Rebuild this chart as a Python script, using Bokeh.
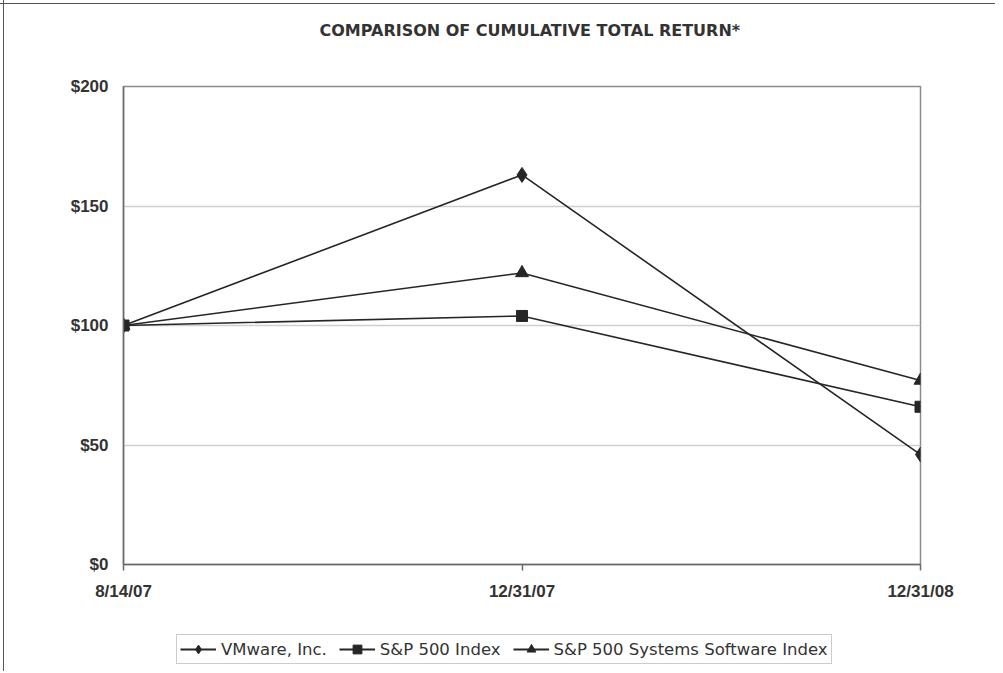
from bokeh.plotting import figure
from bokeh.models import Range1d, FixedTicker, Legend, LegendItem, Label
from bokeh.layouts import column
from bokeh.embed import file_html
from bokeh.resources import INLINE

dates = ["8/14/07", "12/31/07", "12/31/08"]
vmware = [100, 163, 46]
sp500 = [100, 104, 66]
software = [100, 122, 77]
y_ticks = [0, 50, 100, 150, 200]
y_labels = ["$0", "$50", "$100", "$150", "$200"]
series_names = ["VMware, Inc.", "S&P 500 Index", "S&P 500 Systems Software Index"]
title_text = "COMPARISON OF CUMULATIVE TOTAL RETURN*"

xs = list(range(len(dates)))
col = "#262626"
markers = [("diamond", 15), ("square", 11), ("triangle", 13)]

# title strip
TH = 50
tf = figure(width=995, height=TH, output_backend="svg", toolbar_location=None,
            x_range=Range1d(0, 1), y_range=Range1d(0, TH),
            x_axis_location=None, y_axis_location=None,
            min_border_left=0, min_border_right=0, min_border_top=0, min_border_bottom=0)
tf.border_fill_color = None
tf.background_fill_color = None
tf.outline_line_color = None
tf.grid.grid_line_color = None
tf.add_layout(Label(x=196, y=TH - 30, x_units="screen", text=title_text,
                    text_align="left", text_baseline="middle",
                    text_font="DejaVu Sans", text_font_style="bold",
                    text_font_size="16px", text_color="#333333"))

p = figure(width=995, height=625 - TH, output_backend="svg", toolbar_location=None,
           x_range=Range1d(0, len(dates) - 1), y_range=Range1d(0, 200),
           min_border_left=123, min_border_top=86 - TH, min_border_right=75, min_border_bottom=61)
p.background_fill_color = "white"
p.border_fill_color = None
p.outline_line_color = "#8a8a8a"
p.outline_line_width = 1.5

p.xgrid.grid_line_color = None
p.ygrid.grid_line_color = "#cfcfcf"
p.ygrid.grid_line_width = 1.5

p.xaxis.ticker = FixedTicker(ticks=xs)
p.xaxis.major_label_overrides = {i: d for i, d in zip(xs, dates)}
p.yaxis.ticker = FixedTicker(ticks=y_ticks)
p.yaxis.major_label_overrides = {t: l for t, l in zip(y_ticks, y_labels)}
for ax in (p.xaxis, p.yaxis):
    ax.axis_line_color = "#6a6a6a"
    ax.axis_line_width = 1.5
    ax.minor_tick_line_color = None
    ax.major_label_text_font = "Liberation Sans"
    ax.major_label_text_font_style = "bold"
    ax.major_label_text_font_size = "17px"
    ax.major_label_text_color = "#333333"
    ax.major_tick_line_color = "#6a6a6a"
    ax.major_tick_line_width = 1.5
p.xaxis.major_tick_out = 6
p.xaxis.major_tick_in = 0
p.xaxis.major_label_standoff = 11
p.yaxis.major_tick_out = 0
p.yaxis.major_tick_in = 0
p.yaxis.major_label_standoff = 15

for vals, (mk, sz) in zip([vmware, sp500, software], markers):
    p.line(xs, vals, line_color=col, line_width=1.6)
    p.scatter(xs, vals, marker=mk, size=sz, color=col)

# legend strip below the chart
LH = 46
lf = figure(width=995, height=LH, output_backend="svg", toolbar_location=None,
            x_range=Range1d(0, 1), y_range=Range1d(0, 1),
            x_axis_location=None, y_axis_location=None,
            min_border_left=0, min_border_right=0, min_border_top=0, min_border_bottom=0)
lf.border_fill_color = None
lf.background_fill_color = None
lf.outline_line_color = None
lf.grid.grid_line_color = None
items = []
for name, (mk, sz) in zip(series_names, markers):
    # proxy renderers outside the visible range, used only for the legend key
    rl = lf.line(x=[-5, -4], y=[-5, -4], line_color=col, line_width=1.8)
    rm = lf.scatter(x=[-5], y=[-5], marker=mk, size=sz, color=col)
    items.append(LegendItem(label=name, renderers=[rl, rm]))
legend = Legend(items=items, orientation="horizontal", location=(53, LH - 39))
legend.label_text_font = "DejaVu Sans"
legend.label_text_font_size = "16.5px"
legend.label_text_color = "#333333"
legend.glyph_width = 36
legend.glyph_height = 22
legend.label_height = 18
legend.label_standoff = 5
legend.spacing = 12
legend.padding = 3
legend.margin = 0
legend.border_line_color = "#9a9a9a"
legend.border_line_width = 1
legend.background_fill_alpha = 1
lf.add_layout(legend, "center")

layout = column(tf, p, lf, spacing=0)
layout.styles = {
    "background": "linear-gradient(#555, #555) 3px 0 / 1px 100% no-repeat, "
                  "linear-gradient(#555, #555) 0 3px / 100% 1px no-repeat",
}

open("out.html", "w").write(file_html(layout, INLINE))
